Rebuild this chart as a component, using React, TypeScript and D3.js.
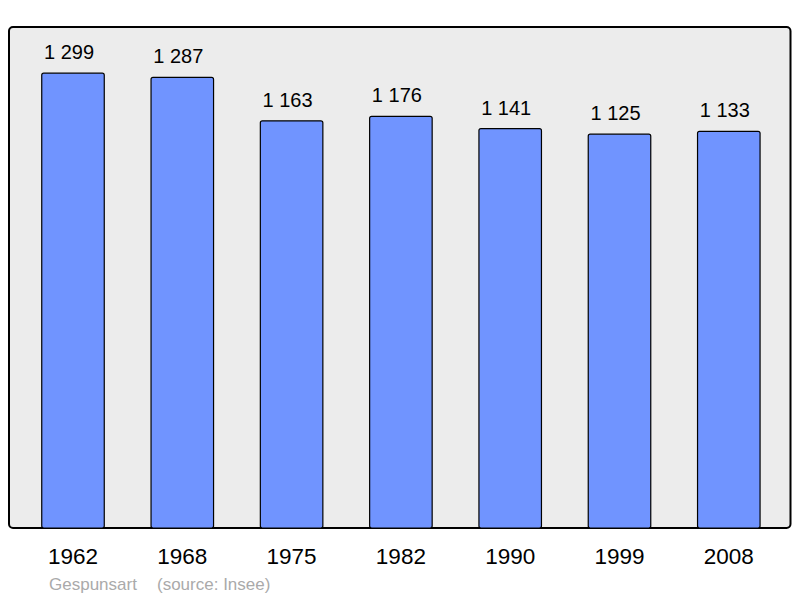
import React from "react";
import * as d3 from "d3";

const years = ["1962", "1968", "1975", "1982", "1990", "1999", "2008"];
const population = [1299, 1287, 1163, 1176, 1141, 1125, 1133];
const author = "Gespunsart";
const source = "(source: Insee)";

export default function App() {
  const W = 800, H = 598;
  const plot = { x0: 9, y0: 27, x1: 790.5, y1: 528 };
  const x = d3.scaleBand<string>().domain(years).range([18.35, 783.45]).paddingInner(0.428).paddingOuter(0.214);
  const y = d3.scaleLinear().domain([0, 1431]).range([plot.y1, plot.y0]);
  const fmt = (v: number) => d3.format(",")(v).replace(/,/g, " ");
  const font = "'Liberation Sans', Arial, sans-serif";
  return (
    <svg width={W} height={H} style={{ position: "absolute", left: 0, top: 0 }} fontFamily={font}>
      <rect x={plot.x0} y={plot.y0} width={plot.x1 - plot.x0} height={plot.y1 - plot.y0} rx={4} fill="#ececec" stroke="#000" strokeWidth={2} />
      {years.map((yr, i) => {
        const bx = x(yr)!;
        const by = y(population[i]);
        return (
          <g key={yr}>
            <rect x={bx} y={by} width={x.bandwidth()} height={plot.y1 - by} rx={2} fill="#7094ff" stroke="#000" strokeWidth={1.2} />
            <text x={bx + x.bandwidth() / 2 - 4} y={by - 14} textAnchor="middle" fontSize={20} fill="#000">{fmt(population[i])}</text>
            <text x={bx + x.bandwidth() / 2} y={564.3} textAnchor="middle" fontSize={22.5} fill="#000">{yr}</text>
          </g>
        );
      })}
      <text x={49} y={590} fontSize={17} fill="#aaaaaa">{author}</text>
      <text x={157} y={590} fontSize={17} fill="#aaaaaa">{source}</text>
    </svg>
  );
}
